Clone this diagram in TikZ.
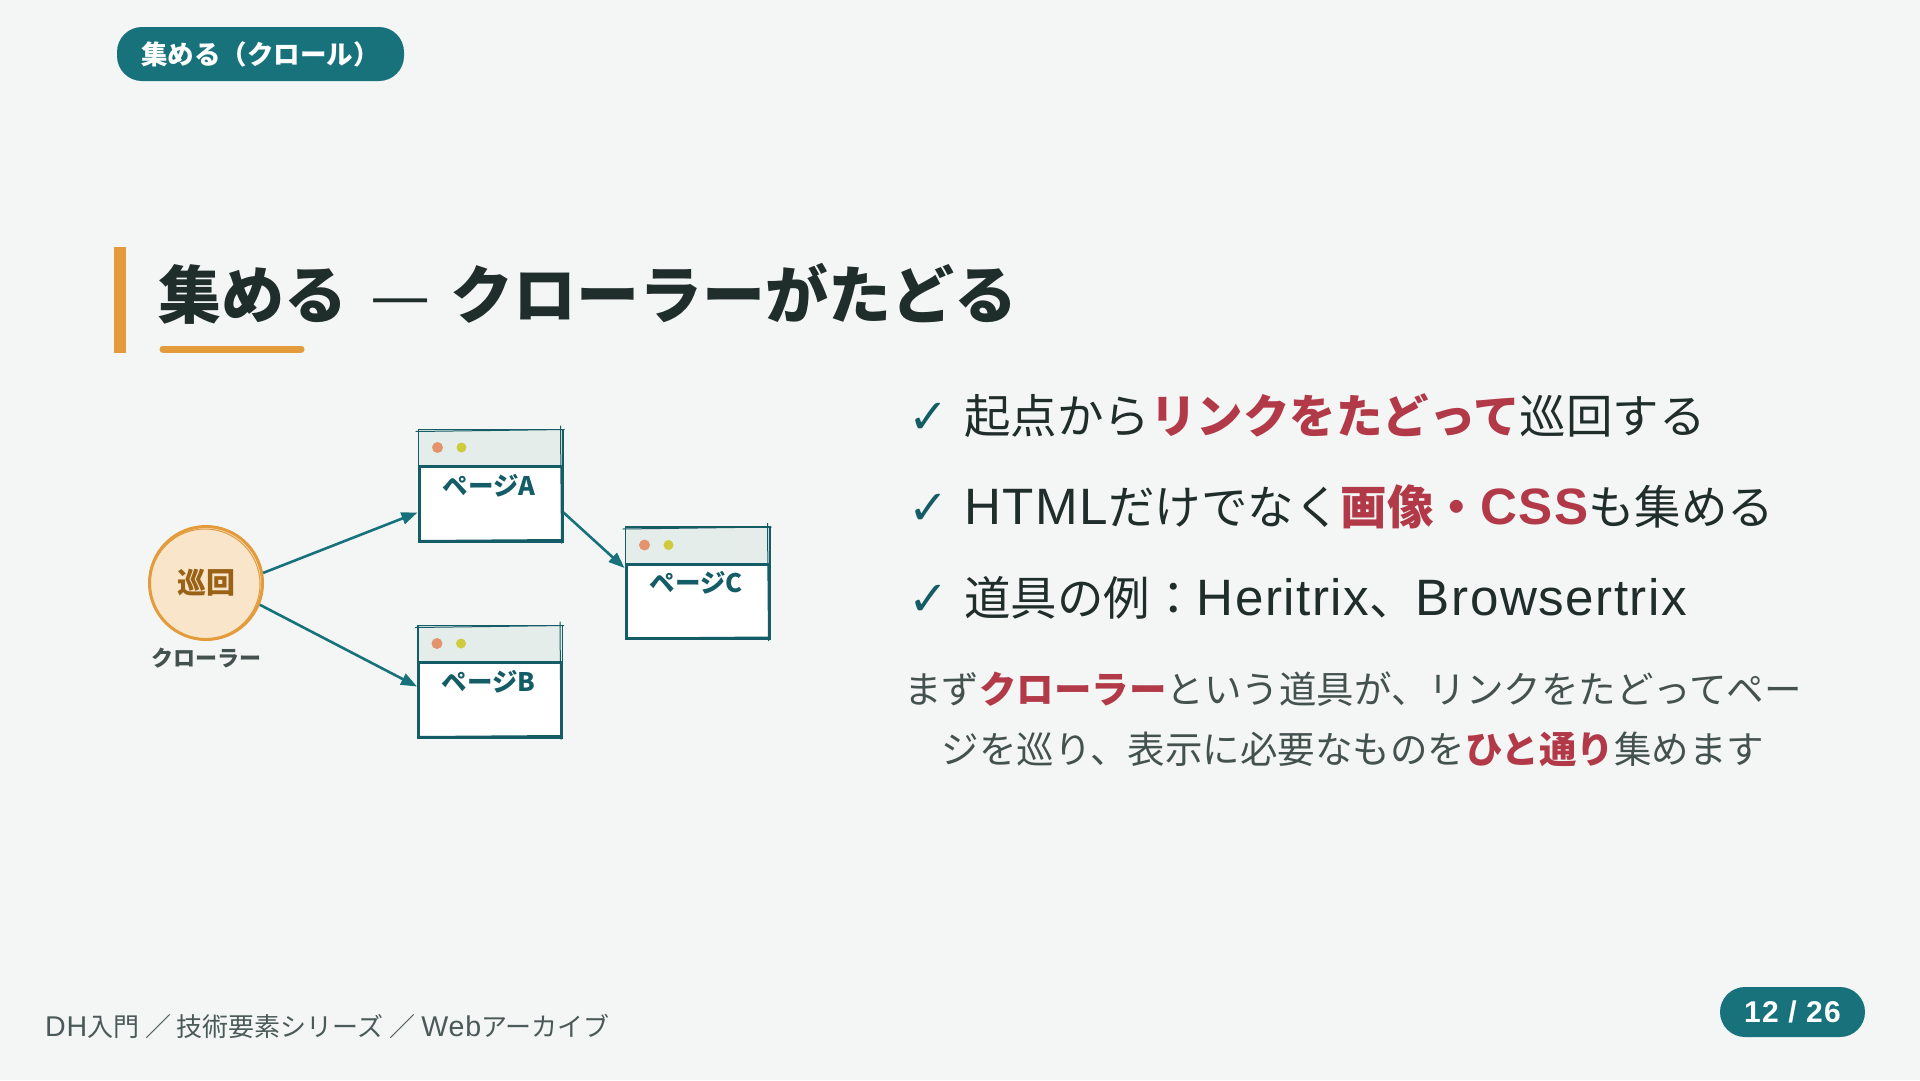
\documentclass[tikz,border=0pt]{standalone}
\usepackage{fontspec}
\setmainfont{Noto Sans CJK JP}
\newfontfamily\symfont{DejaVu Sans}
\newfontfamily\latfont{Liberation Sans}[Scale=1.1, LetterSpace=3]
\newfontfamily\numfont{Liberation Sans}[LetterSpace=4]
\usetikzlibrary{arrows.meta,calc}
\definecolor{cBg}{HTML}{F4F6F5}
\definecolor{cTeal}{HTML}{17727C}
\definecolor{cTealDark}{HTML}{145C66}
\definecolor{cInk}{HTML}{1F2D2B}
\definecolor{cPara}{HTML}{44524F}
\definecolor{cAccent}{HTML}{B23A48}
\definecolor{cOrange}{HTML}{E39B3B}
\definecolor{cCircFill}{HTML}{F8E5CA}
\definecolor{cBrown}{HTML}{9A6216}
\definecolor{cHead}{HTML}{E4EDEA}
\definecolor{cDotA}{HTML}{E3946C}
\definecolor{cDotB}{HTML}{CFCB3C}
\definecolor{cFoot}{HTML}{4A5A58}
\tikzset{
  pill/.style={fill=cTeal, text=white, rounded corners=25pt, inner sep=0pt, font=\bfseries\fontsize{26.5}{30}\selectfont},
  bullettext/.style={anchor=west, inner sep=0pt, text=cInk, font=\fontsize{46.5}{54}\selectfont},
  checkmark/.style={inner sep=0pt, text=cTealDark, font=\symfont\bfseries\fontsize{48}{54}\selectfont},
  paratext/.style={inner sep=0pt, text=cPara, font=\fontsize{37.5}{44}\selectfont},
  webpage/.style={draw=cTealDark, line width=3pt, fill=white, minimum width=143pt, minimum height=111pt, inner sep=0pt},
  pagelabel/.style={inner sep=0pt, text=cTealDark, font=\bfseries\fontsize{25.5}{30}\selectfont},
  link/.style={draw=cTeal, line width=2.6pt, -{Triangle[length=16pt,width=12pt]}},
}
\newcommand\hi[1]{\textcolor{cAccent}{\bfseries #1}}
\newcommand\lat[1]{{\latfont #1}}
\newcommand\drawwebpage[4]{% name, x, y, label
  \node[webpage] (#1) at (#2,#3) {};
  \fill[cHead] ($(#1.north west)+(1.5,1.5)$) rectangle ($(#1.north east)+(-1.5,38)$);
  \draw[cTealDark, line width=3pt] ($(#1.north west)+(0,38)$) -- ($(#1.north east)+(0,38)$);
  \draw[cTealDark, line width=1pt] ($(#1.north west)+(-2,3)$) -- ($(#1.north east)+(1,1)$);
  \draw[cTealDark, line width=1pt] ($(#1.south west)+(1,-2)$) -- ($(#1.south east)+(-2,-3)$);
  \draw[cTealDark, line width=1pt] ($(#1.north east)+(-3,-3)$) -- ($(#1.south east)+(-2,1)$);
  \fill[cDotA] ($(#1.north west)+(20,19)$) circle (5.5pt);
  \fill[cDotB] ($(#1.north west)+(44,19)$) circle (5pt);
  \node[pagelabel] (#1lbl) at ($(#1.north west)+(71.5,57)$) {#4};
}
\begin{document}
\begin{tikzpicture}[x=1pt,y=-1pt]
\useasboundingbox (0,0) rectangle (1920,1080);
\fill[cBg] (0,0) rectangle (1920,1080);

% top tag
\node[pill, minimum width=287pt, minimum height=54pt] (tag) at (260.5,54) {集める（クロール）};

% title
\fill[cOrange] (114,247) rectangle (126,353);
\node[anchor=west, inner sep=0pt, text=cInk, font=\bfseries\fontsize{63}{72}\selectfont] (title) at (158,294) {集める\hspace{23pt}{\mdseries\scalebox{1.07}[1]{—}}\hspace{20pt}クローラーがたどる};
\draw[cOrange, line width=7pt, line cap=round] (163,349) -- (301,349);

% crawler
\node[circle, draw=cOrange, line width=3pt, fill=cCircFill, minimum size=113pt, inner sep=0pt,
      text=cBrown, font=\bfseries\fontsize{29}{34}\selectfont] (crawler) at (206,583) {巡回};
\draw[cOrange, line width=1pt] (205,584) circle (55pt);
\node[inner sep=0pt, text=cPara, font=\bfseries\fontsize{22}{26}\selectfont] (crawlerlbl) at (206,658) {クローラー};

% pages
\drawwebpage{pageA}{490.5}{485.5}{ページA}
\drawwebpage{pageB}{490}{681.5}{ページB}
\drawwebpage{pageC}{697.5}{583}{ページC}

% links
\draw[link] (crawler.10) -- ([yshift=-27pt]pageA.west);
\draw[link] (crawler.-22) -- ([yshift=-5pt]pageB.west);
\draw[link] ([yshift=-27pt]pageA.east) -- ([yshift=15pt]pageC.west);

% bullets
\node[checkmark] (ck1) at (929,418) {✓};
\node[bullettext] (b1) at (964,416) {起点から\hi{リンクをたどって}巡回する};
\node[checkmark] (ck2) at (929,509) {✓};
\node[bullettext] (b2) at (964,507) {\lat{HTML}だけでなく\hi{画像・\lat{CSS}}も集める};
\node[checkmark] (ck3) at (929,600) {✓};
\node[bullettext] (b3) at (964,598) {道具の例：\lat{Heritrix}、\lat{Browsertrix}};

% paragraph
\node[paratext] (p1) at (1353,689) {まず\hi{クローラー}という道具が、リンクをたどってペー};
\node[paratext] (p2) at (1353,749) {ジを巡り、表示に必要なものを\hi{ひと通り}集めます};

% footer
\node[anchor=west, inner sep=0pt, text=cFoot, font=\fontsize{26}{30}\selectfont] (footer) at (45,1026) {\lat{DH}入門 ／ 技術要素シリーズ ／ \lat{Web}アーカイブ};
\node[pill, minimum width=145pt, minimum height=50pt, font=\numfont\bfseries\fontsize{30}{34}\selectfont] (pageno) at (1792.5,1012) {12 / 26};
\end{tikzpicture}
\end{document}
